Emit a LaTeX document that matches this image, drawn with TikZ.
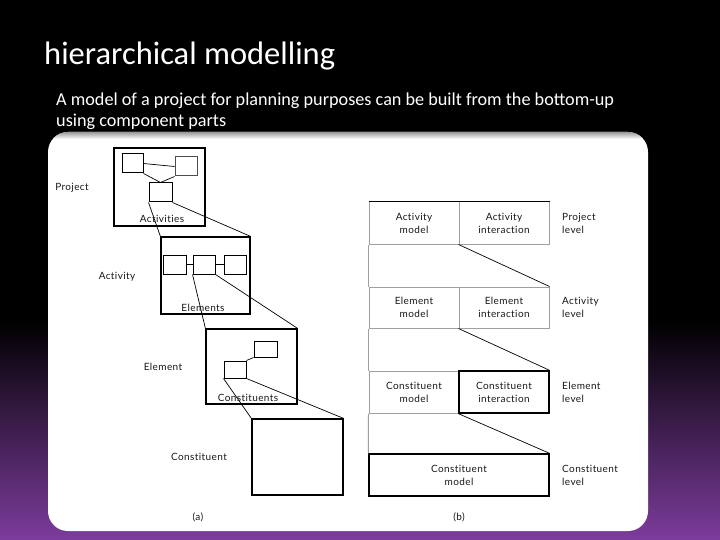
\documentclass[tikz,border=0pt]{standalone}
\usepackage{fontspec}
\setmainfont{Lato}
\newfontfamily\slidefont{Carlito}
\newfontfamily\figfont[LetterSpace=4,Ligatures=NoCommon]{Lato}
\usepackage{tikz}
\definecolor{slidepurple}{RGB}{124,60,156}
\definecolor{inktext}{RGB}{25,25,25}

\begin{document}
\begin{tikzpicture}[x=1pt,y=-1pt,
  frame/.style={draw,line width=1.2pt,inner sep=0pt},
  sbox/.style={draw,line width=1pt,inner sep=0pt,minimum height=19pt},
  link/.style={line width=0.7pt},
  lbl/.style={font=\figfont\fontsize{10}{11}\selectfont,text=inktext,inner sep=1pt},
  cell/.style={draw=gray!75,line width=1pt,minimum width=90pt,minimum height=42pt,
    align=center,font=\figfont\fontsize{10}{13}\selectfont,text=inktext,inner sep=0pt},
  lvl/.style={anchor=west,align=left,font=\figfont\fontsize{10}{13}\selectfont,text=inktext,inner sep=0pt}]
\useasboundingbox (0,0) rectangle (720,540);

% Hintergrund der Folie
\fill[black] (0,0) rectangle (720,540);
\shade[top color=black,bottom color=slidepurple] (0,320) rectangle (720,540);
\fill[white,rounded corners=20pt] (48,132) rectangle (648,531);
\begin{scope}
\clip[rounded corners=20pt] (48,132) rectangle (648,531);
\shade[top color=gray!80,bottom color=white] (48,132) rectangle (648,139);
\end{scope}

% Titel und Untertitel
\node[anchor=base west,text=white,inner sep=0pt,font=\slidefont\fontsize{32.5}{36}\selectfont] (title) at (44,65) {hierarchical modelling};
\node[anchor=base west,text=white,inner sep=0pt,font=\slidefont\fontsize{18.2}{20}\selectfont] (sub1) at (56,106) {A model of a project for planning purposes can be built from the bottom-up};
\node[anchor=base west,text=white,inner sep=0pt,font=\slidefont\fontsize{18.2}{20}\selectfont] (sub2) at (56,127) {using component parts};

% (a) Rahmen der Ebenen
\node[frame,minimum width=91pt,minimum height=78pt] (proj) at (159.5,187) {};
\node[frame,minimum width=89pt,minimum height=77pt] (act) at (205.5,275.5) {};
\node[frame,minimum width=91pt,minimum height=75pt] (elem) at (251.5,366.5) {};
\node[frame,minimum width=91pt,minimum height=76pt] (cons) at (297.5,457) {};

% kleine Kaesten
\node[sbox,minimum width=21pt] (pa) at (132.5,163.5) {};
\node[sbox,minimum width=22pt,draw=black!70] (pb) at (186,166.5) {};
\node[sbox,minimum width=23pt] (pc) at (160.5,192.5) {};
\node[sbox,minimum width=23pt] (ea) at (174.5,264.5) {};
\node[sbox,minimum width=22pt] (eb) at (204,264.5) {};
\node[sbox,minimum width=22pt] (ec) at (235,264.5) {};
\node[sbox,minimum width=23pt,minimum height=16pt] (ca) at (265.5,349) {};
\node[sbox,minimum width=22pt,minimum height=17pt] (cb) at (235,369.5) {};

% Verbindungen
\draw[link] (pa.east) -- (pb.west);
\draw[link] (pa.south east) -- (pc.north);
\draw[link] (pc.north) -- (pb.south west);
\draw[link] (pc.south west) -- (act.north west);
\draw[link] (pc.south east) -- (act.north east);
\draw[link] (ea.east) -- (eb.west);
\draw[link] (eb.east) -- (ec.west);
\draw[link] (eb.south west) -- (elem.north west);
\draw[link] (eb.south east) -- (elem.north east);
\draw[link] (cb.north east) -- (ca.south west);
\draw[link] (cb.south west) -- (cons.north west);
\draw[link] (cb.south east) -- (cons.north east);

% Beschriftungen (a)
\node[lbl] (tact) at (162,219) {Activities};
\node[lbl] (telem) at (203,308) {Elements};
\node[lbl] (tcons) at (248,398) {Constituents};
\node[lbl] (lproj) at (72,188) {Project};
\node[lbl] (lact) at (117,277) {Activity};
\node[lbl] (lelem) at (163,367) {Element};
\node[lbl] (lcons) at (199,457) {Constituent};
\node[lbl] (capa) at (198,517) {(a)};

% (b) Modelle je Ebene
\node[cell] (actmod) at (414,223) {Activity\\model};
\node[cell] (actint) at (504,223) {Activity\\interaction};
\node[cell,minimum height=41pt] (elmod) at (414,307.5) {Element\\model};
\node[cell,minimum height=41pt] (elint) at (504,307.5) {Element\\interaction};
\node[cell] (comod) at (414,392) {Constituent\\model};
\node[cell,draw=black,line width=1.3pt] (coint) at (504,392) {Constituent\\interaction};
\node[cell,draw=black,line width=1.3pt,minimum width=180pt] (cobase) at (459,475) {Constituent\\model};
\draw[line width=1pt] (actmod.north west) -- (actint.north east);

\node[lvl] (lvp) at (562,223) {Project\\level};
\node[lvl] (lva) at (562,307.5) {Activity\\level};
\node[lvl] (lve) at (562,392) {Element\\level};
\node[lvl] (lvc) at (562,475) {Constituent\\level};

% Verbindungen (b)
\draw[link] (actint.south west) -- (elint.north east);
\draw[link] (elint.south west) -- (coint.north east);
\draw[link] (coint.south west) -- (cobase.north east);
\draw[gray!75,line width=1pt] (actmod.south west) -- (elmod.north west);
\draw[gray!75,line width=1pt] (elmod.south west) -- (comod.north west);
\draw[gray!75,line width=1pt] (comod.south west) -- (cobase.north west);

\node[lbl] (capb) at (459,517) {(b)};
\end{tikzpicture}
\end{document}
